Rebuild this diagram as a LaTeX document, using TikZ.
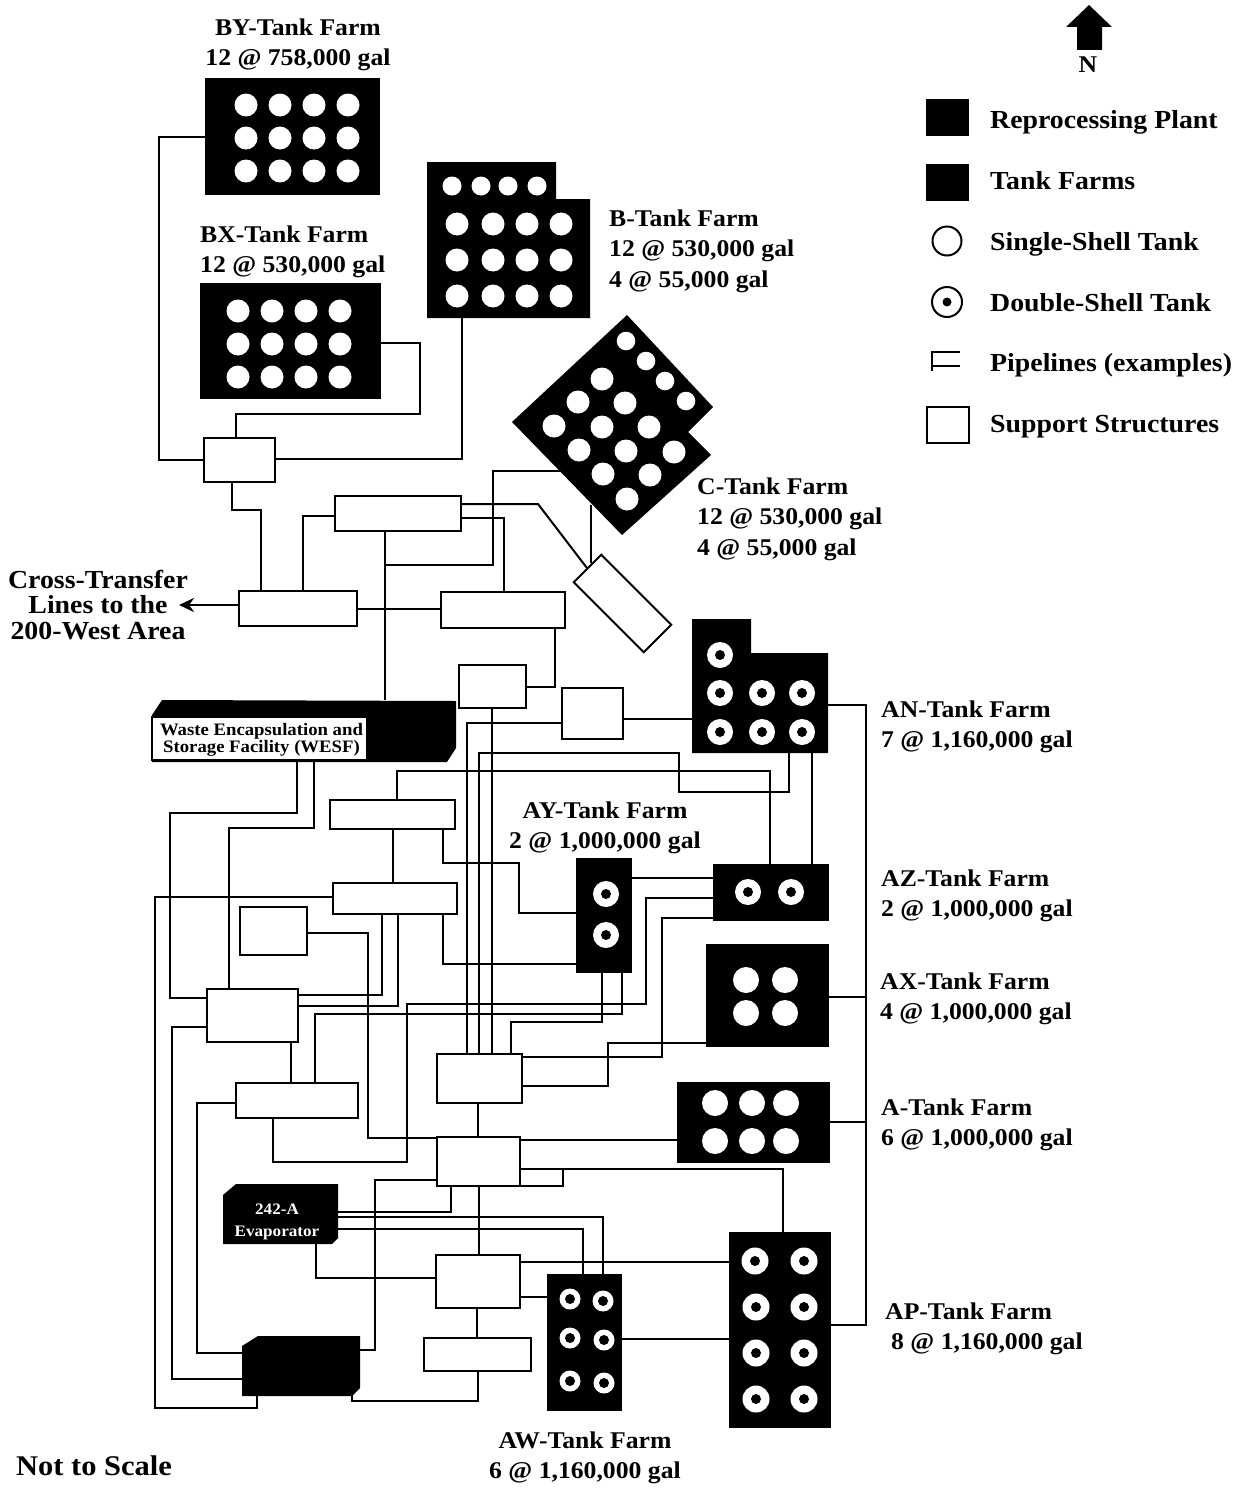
\documentclass[tikz,border=0pt]{standalone}
\usepackage{fontspec}
\setmainfont{Liberation Serif}[FakeStretch=1.07]
\usetikzlibrary{fit,arrows.meta}
\tikzset{
  sup/.style={draw=black,fill=white,line width=2pt,inner sep=0pt,fit={#1}},
  farm/.style={fill=black,draw=none,inner sep=0pt,fit={#1}},
  ghost/.style={draw=none,inner sep=0pt,fit={#1}},
  pipe/.style={draw=black,line width=2pt,line join=miter},
  lab/.style={font=\fontsize{24}{30.5}\selectfont\bfseries,inner sep=0pt,text=black},
  biglab/.style={font=\fontsize{26}{25.5}\selectfont\bfseries,inner sep=0pt,text=black},
  leftlab/.style={lab,anchor=west,align=left},
  midlab/.style={lab,anchor=center,align=center},
  keylab/.style={biglab,anchor=base west},
  small/.style={font=\fontsize{17.5}{17}\selectfont\bfseries,inner sep=0pt,align=center},
}
\newcommand\stank[3]{\fill[white] (#1,#2) circle[radius=#3];}
\newcommand\dtank[4]{\fill[white] (#1,#2) circle[radius=#3];\fill[black] (#1,#2) circle[radius=#4];}
\begin{document}
\begin{tikzpicture}[x=1pt,y=-1pt]
\useasboundingbox (0,0) rectangle (1255,1488);

% ---------- irregular black shapes
\node[ghost={(427,162)(590,318)}] (b) {};
\fill (427,162) -- (556,162) -- (556,199) -- (590,199) -- (590,318) -- (427,318) -- cycle;
\node[ghost={(512,315)(713,535)}] (c) {};
\fill (627,315) -- (713,407) -- (688,432) -- (711,455) -- (622,535) -- (512,422) -- cycle;
\node[ghost={(692,619)(828,753)}] (an) {};
\fill (692,619) -- (751,619) -- (751,653) -- (828,653) -- (828,753) -- (692,753) -- cycle;
\node[ghost={(152,700)(456,762)}] (wesf) {};
\fill (152,715) -- (162,700) -- (456,701) -- (456,748) -- (447,762) -- (152,762) -- cycle;
\node[ghost={(223,1184)(338,1244)}] (evap) {};
\fill (223,1195) -- (236,1184) -- (338,1184) -- (338,1238) -- (332,1244) -- (223,1244) -- cycle;
\node[ghost={(242,1336)(360,1396)}] (plant) {};
\fill (242,1346) -- (258,1336) -- (360,1336) -- (360,1388) -- (352,1396) -- (242,1396) -- cycle;

% ---------- rectangular farms
\node[farm={(205,78)(380,195)}] (by) {};
\node[farm={(200,283)(381,399)}] (bx) {};
\node[farm={(576,858)(632,973)}] (ay) {};
\node[farm={(713,864)(829,921)}] (az) {};
\node[farm={(706,944)(829,1047)}] (ax) {};
\node[farm={(677,1082)(830,1163)}] (a) {};
\node[farm={(729,1232)(831,1428)}] (ap) {};
\node[farm={(547,1274)(622,1411)}] (aw) {};

% ---------- support structures
\node[sup={(204,438)(275,482)}] (s1) {};
\node[sup={(335,496)(461,531)}] (s2) {};
\node[sup={(239,591)(357,626)}] (s3) {};
\node[sup={(441,592)(565,628)}] (s4) {};
\node[sup={(459,665)(526,708)}] (s5) {};
\node[sup={(562,688)(623,739)}] (s6) {};
\node[sup={(330,800)(455,829)}] (s7) {};
\node[sup={(333,883)(457,914)}] (s9) {};
\node[sup={(240,907)(307,955)}] (s10) {};
\node[sup={(207,989)(298,1042)}] (s8) {};
\node[sup={(437,1054)(522,1103)}] (s11) {};
\node[sup={(236,1083)(358,1118)}] (s12) {};
\node[sup={(437,1137)(520,1186)}] (s13) {};
\node[sup={(436,1255)(520,1308)}] (s14) {};
\node[sup={(424,1338)(531,1371)}] (s15) {};
\node[draw=black,fill=white,line width=2pt,minimum width=99pt,minimum height=39pt,inner sep=0pt,rotate=-45] (t) at (622.5,603.5) {};

% ---------- junctions and free ends
\coordinate (j1) at (385,565);
\coordinate (j2) at (520,1186);
\coordinate (cw) at (560,471);
\coordinate (cs) at (591,505);
\coordinate (tip) at (179,605);

% ---------- pipelines, upper part
\draw[pipe] (by.west |- 0,137) -- (159,137) -- (159,460) -- (s1.west |- 0,460);
\draw[pipe] (bx.east |- 0,343) -- (420,343) -- (420,414) -- (236,414) -- (s1.north -| 236,0);
\draw[pipe] (b.south -| 462,0) -- (462,459) -- (s1.east |- 0,459);
\draw[pipe] (s1.south -| 232,0) -- (232,510) -- (261,510) -- (s3.north -| 261,0);
\draw[pipe] (s2.west |- 0,516) -- (303,516) -- (s3.north -| 303,0);
\draw[pipe] (s2.south -| 385,0) -- (wesf.north -| 385,0);
\draw[pipe] (j1) -- (493,565) -- (493,471) -- (cw);
\draw[pipe] (s3.east |- 0,609) -- (s4.west |- 0,609);
\draw[pipe] (s2.east |- 0,504) -- (538,504) -- (t.west);
\draw[pipe] (s2.east |- 0,518) -- (504,518) -- (s4.north -| 504,0);
\draw[pipe] (cs) -- (cs |- t.173);
\draw[pipe] (s4.south -| 555,0) -- (555,687) -- (s5.east |- 0,687);
\draw[line width=2.6pt,-{Stealth[length=15pt,width=14pt]}] (s3.west |- 0,605) -- (tip);

% ---------- pipelines, middle part
\draw[pipe] (wesf.south -| 297,0) -- (297,813) -- (170,813) -- (170,998) -- (s8.west |- 0,998);
\draw[pipe] (wesf.south -| 314,0) -- (314,828) -- (229,828) -- (s8.north -| 229,0);
\draw[pipe] (s7.north -| 397,0) -- (397,771) -- (770,771) -- (az.north -| 770,0);
\draw[pipe] (s11.north -| 479,0) -- (479,753) -- (679,753) -- (679,792) -- (789,792) -- (an.south -| 789,0);
\draw[pipe] (s11.north -| 467,0) -- (467,723) -- (s6.west |- 0,723);
\draw[pipe] (s5.south -| 492,0) -- (s11.north -| 492,0);
\draw[pipe] (s11.north -| 511,0) -- (511,1022) -- (602,1022) -- (ay.south -| 602,0);
\draw[pipe] (s7.south -| 393,0) -- (s9.north -| 393,0);
\draw[pipe] (s7.south -| 443,0) -- (443,863) -- (519,863) -- (519,913) -- (ay.west |- 0,913);
\draw[pipe] (s9.west |- 0,897) -- (155,897) -- (155,1408) -- (257,1408) -- (plant.south -| 257,0);
\draw[pipe] (s9.south -| 382,0) -- (382,995) -- (s8.east |- 0,995);
\draw[pipe] (s9.south -| 398,0) -- (398,1006) -- (s8.east |- 0,1006);
\draw[pipe] (s9.south -| 443,0) -- (443,964) -- (ay.west |- 0,964);
\draw[pipe] (s10.east |- 0,933) -- (368,933) -- (368,1138) -- (s13.west |- 0,1138);
\draw[pipe] (s12.south -| 273,0) -- (273,1162) -- (407,1162) -- (407,1004) -- (646,1004) -- (646,898) -- (az.west |- 0,898);
\draw[pipe] (s12.north -| 315,0) -- (315,1014) -- (622,1014) -- (ay.south -| 622,0);
\draw[pipe] (s8.west |- 0,1027) -- (172,1027) -- (172,1379) -- (plant.west |- 0,1379);
\draw[pipe] (s8.south -| 291,0) -- (s12.north -| 291,0);
\draw[pipe] (s12.west |- 0,1103) -- (197,1103) -- (197,1353) -- (plant.west |- 0,1353);
\draw[pipe] (ay.east |- 0,878) -- (az.west |- 0,878);
\draw[pipe] (s6.east |- 0,719) -- (an.west |- 0,719);
\draw[pipe] (an.south -| 812,0) -- (az.north -| 812,0);

% ---------- pipelines, lower part
\draw[pipe] (s11.east |- 0,1057) -- (662,1057) -- (662,918) -- (az.west |- 0,918);
\draw[pipe] (s11.east |- 0,1086) -- (608,1086) -- (608,1043) -- (ax.west |- 0,1043);
\draw[pipe] (s11.south -| 478,0) -- (s13.north -| 478,0);
\draw[pipe] (s13.east |- 0,1140) -- (a.west |- 0,1140);
\draw[pipe] (s13.east |- 0,1169) -- (783,1169) -- (ap.north -| 783,0);
\draw[pipe] (j2) -- (563,1186) -- (563,1169);
\draw[pipe] (s13.west |- 0,1180) -- (375,1180) -- (375,1350) -- (plant.east |- 0,1350);
\draw[pipe] (s13.south -| 451,0) -- (451,1212) -- (evap.east |- 0,1212);
\draw[pipe] (s13.south -| 479,0) -- (s14.north -| 479,0);
\draw[pipe] (evap.east |- 0,1217) -- (603,1217) -- (aw.north -| 603,0);
\draw[pipe] (evap.east |- 0,1229) -- (583,1229) -- (aw.north -| 583,0);
\draw[pipe] (evap.south -| 316,0) -- (316,1278) -- (s14.west |- 0,1278);
\draw[pipe] (s14.east |- 0,1262) -- (ap.west |- 0,1262);
\draw[pipe] (s14.east |- 0,1297) -- (aw.west |- 0,1297);
\draw[pipe] (s14.south -| 477,0) -- (s15.north -| 477,0);
\draw[pipe] (s15.south -| 478,0) -- (478,1401) -- (352,1401) -- (352,1394);
\draw[pipe] (aw.east |- 0,1339) -- (ap.west |- 0,1339);
\draw[pipe] (ap.east |- 0,1325) -- (866,1325) -- (866,705) -- (an.east |- 0,705);
\draw[pipe] (a.east |- 0,1122) -- (866,1122);
\draw[pipe] (ax.east |- 0,997) -- (866,997);

% ---------- tanks
\foreach \x in {246,280,314,348} \foreach \y in {105,138,171} {\stank{\x}{\y}{11.5}}
\foreach \x in {238,272,306,340} \foreach \y in {311,344,377} {\stank{\x}{\y}{11.5}}
\foreach \x in {452,481,508,537} {\stank{\x}{186}{9.5}}
\foreach \x in {457,493,527,561} \foreach \y in {224,260,296} {\stank{\x}{\y}{11.5}}
\foreach \x/\y in {626/341,646/361,665/381,686/401} {\stank{\x}{\y}{9.3}}
\foreach \x/\y in {602/379,578/402,625/403,554/426,602/427,649/427,579/450,626/451,674/452,603/474,650/475,627/499} {\stank{\x}{\y}{11.5}}
\foreach \x in {746,785} \foreach \y in {980,1013} {\stank{\x}{\y}{13}}
\foreach \x in {715,752,786} \foreach \y in {1103,1141} {\stank{\x}{\y}{13}}
\foreach \x/\y in {720/655,720/693,762/693,802/693,720/732,762/732,802/732} {\dtank{\x}{\y}{13}{5}}
\foreach \x/\y in {748/892,791/892,606/894,606/935} {\dtank{\x}{\y}{13}{5}}
\foreach \x/\y in {570/1299,603/1301,570/1338,604/1340,570/1381,604/1383} {\dtank{\x}{\y}{10.5}{5}}
\foreach \x/\y in {755/1261,804/1261,756/1307,804/1307,756/1353,804/1353,756/1399,804/1399} {\dtank{\x}{\y}{13.5}{5}}

% ---------- labels on shapes
\node[draw=black,fill=white,line width=2pt,inner sep=0pt,fit={(152,717)(367,760)}] (wesfbox) {};
\node[small] (wesftext) at (261.5,739.5) {Waste Encapsulation and\\Storage Facility (WESF)};
\node[small,text=white,font=\fontsize{16}{22}\selectfont\bfseries] (evaptext) at (277,1222) {242-A\\Evaporator};

% ---------- farm labels
\node[midlab] (lby) at (298,45) {BY-Tank Farm\\12 @ 758,000 gal};
\node[leftlab] (lbx) at (200,252) {BX-Tank Farm\\12 @ 530,000 gal};
\node[leftlab] (lb) at (609,251) {B-Tank Farm\\12 @ 530,000 gal\\4 @ 55,000 gal};
\node[leftlab] (lc) at (697,519) {C-Tank Farm\\12 @ 530,000 gal\\4 @ 55,000 gal};
\node[biglab,align=center] (lcross) at (98,605) {Cross-Transfer\\Lines to the\\200-West Area};
\node[leftlab] (lan) at (881,727) {AN-Tank Farm\\7 @ 1,160,000 gal};
\node[midlab] (lay) at (605,828) {AY-Tank Farm\\2 @ 1,000,000 gal};
\node[leftlab] (laz) at (881,896) {AZ-Tank Farm\\2 @ 1,000,000 gal};
\node[leftlab] (lax) at (880,999) {AX-Tank Farm\\4 @ 1,000,000 gal};
\node[leftlab] (la) at (881,1125) {A-Tank Farm\\6 @ 1,000,000 gal};
\node[leftlab] (lap) at (885,1329) {AP-Tank Farm\\\hspace*{6pt}8 @ 1,160,000 gal};
\node[midlab] (law) at (585,1458) {AW-Tank Farm\\6 @ 1,160,000 gal};
\node[font=\fontsize{28.5}{30}\selectfont\bfseries,inner sep=0pt,anchor=base west] (lnts) at (16,1475) {Not to Scale};

% ---------- north arrow
\fill (1089,5) -- (1112,27) -- (1102,27) -- (1102,50) -- (1077,50) -- (1077,27) -- (1066,27) -- cycle;
\node[lab] (north) at (1088,65) {N};

% ---------- legend
\node[farm={(926,99)(969,136)}] (k1) {};
\node[keylab] (k1t) at (990,128.5) {Reprocessing Plant};
\node[farm={(926,164)(969,201)}] (k2) {};
\node[keylab] (k2t) at (990,189.5) {Tank Farms};
\draw[line width=2pt] (947,241) circle[radius=14.5];
\node[keylab] (k3t) at (990,250) {Single-Shell Tank};
\draw[line width=2pt] (947,302) circle[radius=15];
\fill (947,302) circle[radius=4.5];
\node[keylab] (k4t) at (990,311) {Double-Shell Tank};
\draw[line width=2pt] (960,352) -- (932,352) -- (932,371);
\draw[line width=2pt] (932,366) -- (960,366);
\node[keylab] (k5t) at (990,371.5) {Pipelines (examples)};
\node[sup={(927,407)(969,443)}] (k6) {};
\node[keylab] (k6t) at (990,432.5) {Support Structures};
\end{tikzpicture}
\end{document}
